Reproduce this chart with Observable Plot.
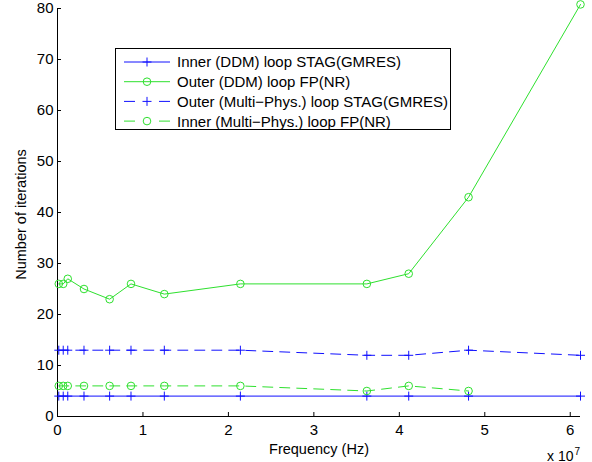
<!DOCTYPE html>
<html><head><meta charset="utf-8">
<script src="https://cdn.jsdelivr.net/npm/d3@7"></script>
<script src="https://cdn.jsdelivr.net/npm/@observablehq/plot@0.6"></script>
<style>body{margin:0;background:#fff} #chart{width:592px;height:462px}</style>
</head><body><div id="chart"></div>
<script>
// ---- data ----
const freq = [1.5e5, 6.7e5, 1.2e6, 3.1e6, 6.1e6, 8.6e6, 1.25e7, 2.14e7, 3.62e7, 4.11e7, 4.81e7, 6.12e7];
const innerDDM = [4, 4, 4, 4, 4, 4, 4, 4, 4, 4, 4, 4];
const outerDDM = [26, 26, 27, 25, 23, 26, 24, 26, 26, 28, 43, 80.8];
const outerMP  = [13, 13, 13, 13, 13, 13, 13, 13, 12, 12, 13, 12];
const innerMP  = [6, 6, 6, 6, 6, 6, 6, 6, 5, 6, 5];
const seriesNames = [
  "Inner (DDM) loop STAG(GMRES)",
  "Outer (DDM) loop FP(NR)",
  "Outer (Multi\u2212Phys.) loop STAG(GMRES)",
  "Inner (Multi\u2212Phys.) loop FP(NR)"
];
const xTicks = [0, 1e7, 2e7, 3e7, 4e7, 5e7, 6e7];
const yTicks = [0, 10, 20, 30, 40, 50, 60, 70, 80];
const xLabel = "Frequency (Hz)";
const yLabel = "Number of iterations";

const BLUE = "#1010ff", GREEN = "#2ee02e";
const FONT = "'Liberation Sans', Arial, Helvetica, sans-serif";

const rows = (vals) => vals.map((v, i) => ({f: freq[i], v}));
const plusSymbol = {draw(ctx, size) {
  const r = Math.sqrt(size / Math.PI);
  ctx.moveTo(-r, 0); ctx.lineTo(r, 0); ctx.moveTo(0, -r); ctx.lineTo(0, r);
}};

const series = [
  {name: seriesNames[0], data: rows(innerDDM), color: BLUE, dash: null, sym: plusSymbol, r: 4.5},
  {name: seriesNames[1], data: rows(outerDDM), color: GREEN, dash: null, sym: "circle", r: 3.8},
  {name: seriesNames[2], data: rows(outerMP), color: BLUE, dash: "10,7", sym: plusSymbol, r: 4.5},
  {name: seriesNames[3], data: rows(innerMP), color: GREEN, dash: "10,7", sym: "circle", r: 3.8}
];

const marks = [];
for (const s of series) {
  marks.push(Plot.line(s.data, {x: "f", y: "v", stroke: s.color, strokeWidth: 1, strokeDasharray: s.dash}));
  marks.push(Plot.dot(s.data, {x: "f", y: "v", symbol: s.sym, r: s.r, stroke: s.color, fill: "none", strokeWidth: 1}));
}

const plot = Plot.plot({
  width: 592, height: 462,
  marginLeft: 57, marginRight: 12, marginTop: 8, marginBottom: 46,
  style: {fontFamily: FONT, background: "#fff", color: "#000"},
  x: {domain: [0, 6.12e7]},
  y: {domain: [0, 80]},
  marks: [
    Plot.axisX({ticks: xTicks, tickFormat: d => String(d / 1e7), tickSize: -4, tickPadding: 12, fontSize: 15, label: null, stroke: "#000"}),
    Plot.axisY({ticks: yTicks, tickFormat: d => String(d), tickSize: -4, tickPadding: 8, fontSize: 15, label: null, stroke: "#000"}),
    Plot.ruleY([0], {stroke: "#000"}),
    Plot.ruleX([0], {stroke: "#000"}),
    ...marks,
    Plot.text([xLabel], {frameAnchor: "bottom", textAnchor: "middle", lineAnchor: "bottom", dy: 37, fontSize: 14.5, fill: "#000"}),
    Plot.text([yLabel], {frameAnchor: "left", textAnchor: "middle", lineAnchor: "bottom", rotate: -90, dx: -32, dy: 2, fontSize: 14.5, fill: "#000"}),
    Plot.text(["x 10"], {frameAnchor: "bottom-right", textAnchor: "end", lineAnchor: "bottom", dx: -7, dy: 44, fontSize: 14, fill: "#000"}),
    Plot.text(["7"], {frameAnchor: "bottom-right", textAnchor: "start", lineAnchor: "bottom", dx: -6, dy: 38, fontSize: 10, fill: "#000"})
  ]
});
document.getElementById("chart").append(plot);

// ---- legend (drawn into the same SVG) ----
const svg = d3.select(plot);
const lg = svg.append("g").attr("font-family", FONT).attr("font-size", 15).attr("text-anchor", "start");
lg.append("rect").attr("x", 115.5).attr("y", 48.5).attr("width", 335).attr("height", 81)
  .attr("fill", "#fff").attr("stroke", "#000").attr("stroke-width", 1);
series.forEach((s, i) => {
  const cy = 62 + i * 19.7;
  lg.append("line").attr("x1", 124).attr("x2", 170).attr("y1", cy).attr("y2", cy)
    .attr("stroke", s.color).attr("stroke-width", 1)
    .attr("stroke-dasharray", s.dash ? "11,24" : null);
  if (s.sym === "circle") {
    lg.append("circle").attr("cx", 147).attr("cy", cy).attr("r", 3.8).attr("fill", "none").attr("stroke", s.color);
  } else {
    lg.append("path").attr("d", `M${147 - 4.5},${cy}H${147 + 4.5}M147,${cy - 4.5}V${cy + 4.5}`).attr("stroke", s.color);
  }
  lg.append("text").attr("x", 177).attr("y", cy).attr("dy", "0.36em").attr("text-anchor", "start").attr("fill", "#000").text(s.name);
});
</script>
</body></html>
